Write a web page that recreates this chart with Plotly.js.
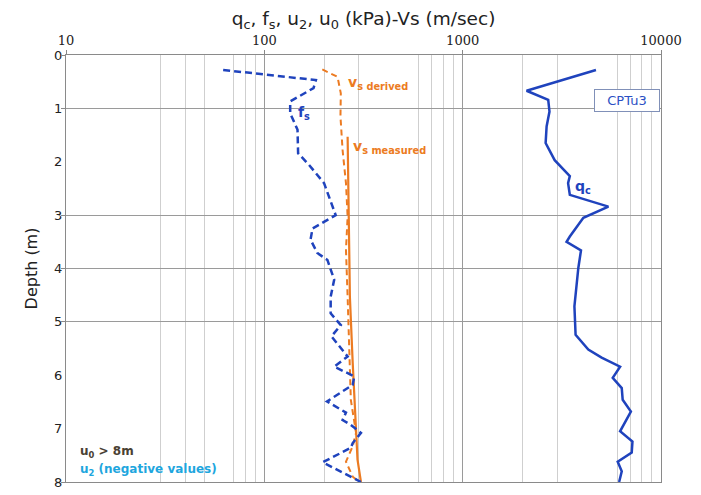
<!DOCTYPE html>
<html>
<head>
<meta charset="utf-8">
<script src="https://cdn.plot.ly/plotly-3.0.1.min.js"></script>
<style>html,body{margin:0;padding:0;background:#fff;}#chart{width:701px;height:495px;}</style>
</head>
<body>
<div id="chart"></div>
<script>
// q_c (kPa)
const qcDepth = [0.28,0.67,0.84,1.06,1.34,1.65,1.97,2.27,2.40,2.62,2.84,3.05,3.40,3.50,3.66,3.99,4.71,5.24,5.52,5.67,5.84,6.05,6.24,6.46,6.68,7.05,7.24,7.45,7.62,7.80,8.00];
const qcVal   = [4700,2100,2700,2740,2650,2620,2910,3470,3400,3470,5430,4060,3470,3340,3950,3830,3660,3710,4300,5020,6220,5710,6340,6410,7050,6220,7180,7120,6050,6340,6150];
// f_s (kPa)
const fsDepth = [0.28,0.47,0.62,0.87,1.09,1.40,1.84,2.06,2.40,2.65,3.00,3.25,3.46,3.71,3.84,4.21,4.53,4.84,5.06,5.27,5.65,5.84,6.02,6.18,6.49,6.70,6.84,6.93,7.08,7.27,7.36,7.63,8.00];
const fsVal   = [62,182,177,135,135,147,148,168,200,212,229,175,171,185,208,225,216,216,243,218,263,225,284,279,207,258,248,273,307,279,273,197,307];
// Vs derived (m/sec)
const vsdDepth = [0.27,0.41,0.72,1.15,1.78,2.40,3.03,3.65,4.53,5.77,6.46,7.08,7.33,7.62,7.90,8.00];
const vsdVal   = [196,234,243,242,248,258,263,258,263,268,273,290,279,258,279,301];
// Vs measured (m/sec)
const vsmDepth = [1.53,3.65,4.53,5.77,7.58,8.00];
const vsmVal   = [263,268,270,279,295,307];

const xMajor = [10,100,1000,10000];
const xMinorGrid = [30,40,50,70,80,90,200,300,600,700,800,900,2000,3000,6000,7000,8000,9000];
const depthTicks = [0,1,2,3,4,5,6,7,8];
const depthGrid = [0,1,3,4,5,8];

const BLUE = '#1f43bd';
const ORANGE = '#ec7b22';
const FONT = 'DejaVu Sans, Verdana, sans-serif';

const traces = [
  {x: vsdVal, y: vsdDepth, mode: 'lines', line: {color: ORANGE, width: 2, dash: '6px,4px'}, hoverinfo: 'skip'},
  {x: vsmVal, y: vsmDepth, mode: 'lines', line: {color: ORANGE, width: 2.2}, hoverinfo: 'skip'},
  {x: fsVal, y: fsDepth, mode: 'lines', line: {color: BLUE, width: 2.5, dash: '7px,4px'}, hoverinfo: 'skip'},
  {x: qcVal, y: qcDepth, mode: 'lines', line: {color: BLUE, width: 2.5}, hoverinfo: 'skip'},
  {x: [], y: [], yaxis: 'y2', mode: 'lines', hoverinfo: 'skip'}
];

const lg = v => Math.log10(v);

const layout = {
  width: 701, height: 495,
  margin: {l: 66, r: 40, t: 55, b: 13},
  paper_bgcolor: '#fff', plot_bgcolor: '#fff',
  showlegend: false,
  font: {family: FONT, color: '#222'},
  title: {
    text: 'q<sub>c</sub>, f<sub>s</sub>, u<sub>2</sub>, u<sub>0</sub> (kPa)-Vs (m/sec)',
    font: {family: FONT, size: 18.5, color: '#222'},
    x: 0.5, xref: 'paper', y: 0.962, yref: 'container', yanchor: 'middle'
  },
  xaxis: {
    type: 'log', range: [1, 4], side: 'top',
    tickmode: 'array', tickvals: xMajor, ticktext: xMajor.map(String),
    tickfont: {family: 'DejaVu Serif, Liberation Serif, serif', size: 13, color: '#222'},
    ticks: 'outside', ticklen: 4, tickcolor: '#888',
    showgrid: true, gridcolor: '#9a9a9a', gridwidth: 1,
    minor: {tickmode: 'array', tickvals: xMinorGrid, showgrid: true, gridcolor: '#cfcfcf', gridwidth: 1, ticks: ''},
    showline: true, linecolor: '#8a8a8a', linewidth: 1, mirror: true,
    zeroline: false, fixedrange: true
  },
  yaxis: {
    range: [8, 0],
    tickmode: 'array', tickvals: depthTicks, ticktext: depthTicks.map(String),
    tickfont: {family: FONT, size: 13, color: '#222'},
    ticks: '', showgrid: false,
    showline: true, linecolor: '#8a8a8a', linewidth: 1, mirror: true,
    zeroline: false, fixedrange: true,
    title: {text: 'Depth (m)', font: {family: FONT, size: 16, color: '#222'}, standoff: 12}
  },
  yaxis2: {
    overlaying: 'y', side: 'left', range: [8, 0],
    tickmode: 'array', tickvals: depthGrid,
    showticklabels: false, ticks: 'outside', ticklen: 4, tickcolor: '#8a8a8a',
    showgrid: true, gridcolor: '#9a9a9a', gridwidth: 1,
    showline: false, zeroline: false, fixedrange: true
  },
  annotations: [
    {x: lg(158), y: 1.09, xref: 'x', yref: 'y', text: '<b>f<sub>s</sub></b>', showarrow: false,
     font: {family: FONT, size: 14, color: BLUE}, xanchor: 'center', yanchor: 'middle'},
    {x: lg(258), y: 0.52, xref: 'x', yref: 'y', text: '<b>v<sub>s derived</sub></b>', showarrow: false,
     font: {family: FONT, size: 14, color: ORANGE}, xanchor: 'left', yanchor: 'middle'},
    {x: lg(274), y: 1.72, xref: 'x', yref: 'y', text: '<b>v<sub>s measured</sub></b>', showarrow: false,
     font: {family: FONT, size: 14, color: ORANGE}, xanchor: 'left', yanchor: 'middle'},
    {x: lg(3600), y: 2.48, xref: 'x', yref: 'y', text: '<b>q<sub>c</sub></b>', showarrow: false,
     font: {family: FONT, size: 14, color: BLUE}, xanchor: 'left', yanchor: 'middle'},
    {x: lg(6700), y: 0.86, xref: 'x', yref: 'y', text: 'CPTu3', showarrow: false,
     font: {family: FONT, size: 13, color: '#2b4fc4'}, xanchor: 'center', yanchor: 'middle',
     bordercolor: '#8090b8', borderwidth: 1, borderpad: 3, bgcolor: '#fff', width: 58},
    {x: lg(11.5), y: 7.43, xref: 'x', yref: 'y', text: '<b>u<sub>0</sub> > 8m</b>', showarrow: false,
     font: {family: FONT, size: 12, color: '#4a4133'}, xanchor: 'left', yanchor: 'middle'},
    {x: lg(11.5), y: 7.77, xref: 'x', yref: 'y', text: '<b>u<sub>2</sub> (negative values)</b>', showarrow: false,
     font: {family: FONT, size: 12, color: '#1ea6de'}, xanchor: 'left', yanchor: 'middle'}
  ]
};

Plotly.newPlot('chart', traces, layout, {staticPlot: true, displayModeBar: false});
</script>
</body>
</html>
